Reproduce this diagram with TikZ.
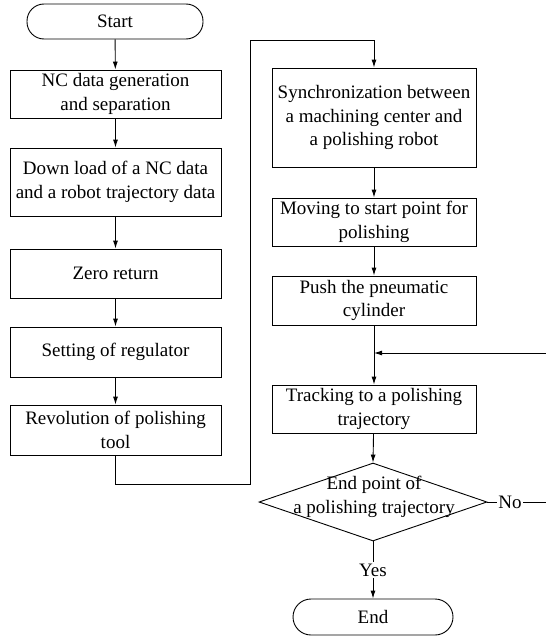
\documentclass[tikz,border=0pt]{standalone}
\usepackage{fontspec}
\setmainfont{Liberation Serif}
\usetikzlibrary{shapes.geometric,arrows.meta}
\tikzset{
  box/.style={draw, minimum width=211pt, inner sep=2pt, align=center},
  rbox/.style={box, minimum width=204pt},
  term/.style={draw, rounded corners=17pt, minimum height=35pt, inner sep=2pt},
  decision/.style={draw, diamond, minimum width=228pt, minimum height=78pt, inner sep=0pt},
}
\begin{document}
\begin{tikzpicture}[x=1pt,y=-1pt,line width=0.9pt,>={Latex[length=8pt,width=5pt]},
    font=\fontsize{19}{23.5}\selectfont]
    \useasboundingbox (0,0) rectangle (546,637);
    % left column
    \node (start) [term, minimum width=176pt] at (115,21.5) {Start};
    \node (ncgen) [box, minimum height=48pt] at (115.5,94) {NC data generation\\and separation};
    \node (down) [box, minimum height=68pt] at (115.5,182) {Down load of a NC data\\and a robot trajectory data};
    \node (zero) [box, minimum height=49pt] at (115.5,273.5) {Zero return};
    \node (regul) [box, minimum height=50pt] at (115.5,352) {Setting of regulator};
    \node (revo) [box, minimum height=50pt] at (115.5,430) {Revolution of polishing\\tool};
    % right column
    \node (sync) [rbox, minimum height=99pt] at (374,117.5) {Synchronization between\\a machining center and\\a polishing robot};
    \node (moving) [rbox, minimum height=48pt] at (374,222) {Moving to start point for\\polishing};
    \node (push) [rbox, minimum height=49pt] at (374,300.5) {Push the pneumatic\\cylinder};
    \node (track) [rbox, minimum height=48pt] at (374,409) {Tracking to a polishing\\trajectory};
    \node (dec) [decision] at (373,502) {};
    \node (dectext) [align=center, inner sep=0pt] at (374,497) {End point of\\a polishing trajectory};
    \node (yes) [inner sep=1pt] at (373,570) {Yes};
    \node (no) [inner sep=1pt] at (510,502) {No};
    \node (end) [term, minimum width=160pt, rounded corners=18pt, minimum height=36pt] at (373,617) {End};
    \coordinate (turnA) at (250,484);
    \coordinate (turnB) at (250,40);
    \coordinate (join) at (374,353);
    \coordinate (outside) at (552,502);
    % connectors
    \draw[->] (start) -- (ncgen);
    \draw[->] (ncgen) -- (down);
    \draw[->] (down) -- (zero);
    \draw[->] (zero) -- (regul);
    \draw[->] (regul) -- (revo);
    \draw[->] (revo.south) |- (turnA) -- (turnB) -| (sync.north);
    \draw[->] (sync) -- (moving);
    \draw[->] (moving) -- (push);
    \draw[->] (push) -- (track);
    \draw[->] (track) -- (dec.north);
    \draw (dec.south) -- (yes);
    \draw[->] (yes) -- (end);
    \draw (dec.east) -- (no);
    \draw[->] (no) -- (outside) |- (join);
\end{tikzpicture}
\end{document}
